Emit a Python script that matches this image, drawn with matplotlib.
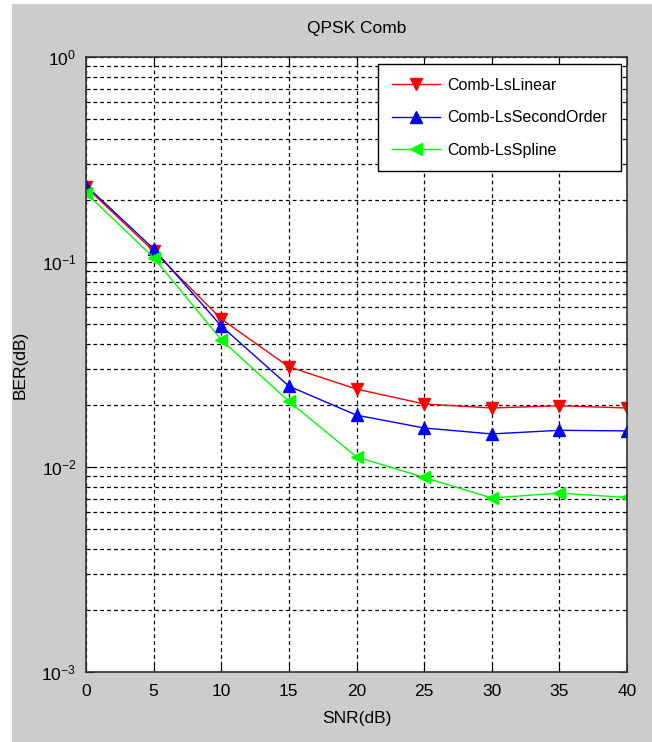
import matplotlib
matplotlib.use('Agg')
import matplotlib.pyplot as plt
from matplotlib.patches import Rectangle

plt.rcParams['font.family'] = ['Liberation Sans', 'DejaVu Sans']

snr = [0, 5, 10, 15, 20, 25, 30, 35, 40]
ber_linear = [0.232, 0.113, 0.0527, 0.0308, 0.0240, 0.0203, 0.0194, 0.0199, 0.0194]
ber_second = [0.236, 0.116, 0.0487, 0.0248, 0.0179, 0.0155, 0.0145, 0.0151, 0.0150]
ber_spline = [0.217, 0.105, 0.0417, 0.0209, 0.0112, 0.0089, 0.00706, 0.00746, 0.00710]

fig = plt.figure(figsize=(6.52, 7.42), dpi=100, facecolor='white')
# grey MATLAB figure background, with a thin white strip on left/top
fig.patches.append(Rectangle((12 / 652, 0), 1, 1 - 4 / 742, transform=fig.transFigure,
                             facecolor='#cccccc', edgecolor='none', zorder=-10))

ax = fig.add_axes([86 / 652, 70 / 742, 541 / 652, 615 / 742])
ax.set_facecolor('white')

ax.semilogy(snr, ber_linear, color='red', marker='v', markersize=9, linewidth=1,
            label='Comb-LsLinear')
ax.semilogy(snr, ber_second, color='blue', marker='^', markersize=9, linewidth=1,
            label='Comb-LsSecondOrder')
ax.semilogy(snr, ber_spline, color='#00ff00', marker='<', markersize=9, linewidth=1,
            label='Comb-LsSpline')

ax.set_xlim(0, 40)
ax.set_ylim(1e-3, 1)
ax.set_xticks(snr)

ax.grid(True, which='major', axis='both', color='black', linestyle=(0, (3, 2.5)), linewidth=0.9)
ax.grid(True, which='minor', axis='y', color='black', linestyle=(0, (3, 2.5)), linewidth=0.9)
ax.set_axisbelow(True)

ax.tick_params(which='both', direction='in', top=True, right=True, labelsize=12.5)
ax.tick_params(which='major', length=6)
ax.tick_params(which='minor', length=3)
ax.tick_params(axis='x', pad=9)
ax.tick_params(axis='y', pad=7)
for spine in ax.spines.values():
    spine.set_color('#333333')
    spine.set_linewidth(1.2)

ax.set_title('QPSK Comb', fontsize=12.5, pad=17)
ax.set_xlabel('SNR(dB)', fontsize=12.5, labelpad=8)
ax.set_ylabel('BER(dB)', fontsize=12.5, labelpad=10)

leg = ax.legend(loc='upper right', bbox_to_anchor=(621 / 652, 1 - 64 / 742),
                bbox_transform=fig.transFigure, borderaxespad=0, fontsize=11.5,
                fancybox=False, framealpha=1, edgecolor='black', handlelength=3.0,
                handletextpad=0.5, labelspacing=1.1, borderpad=0.85)
leg.get_frame().set_linewidth(1.0)

fig.savefig('out.png', dpi=100, facecolor=fig.get_facecolor())
